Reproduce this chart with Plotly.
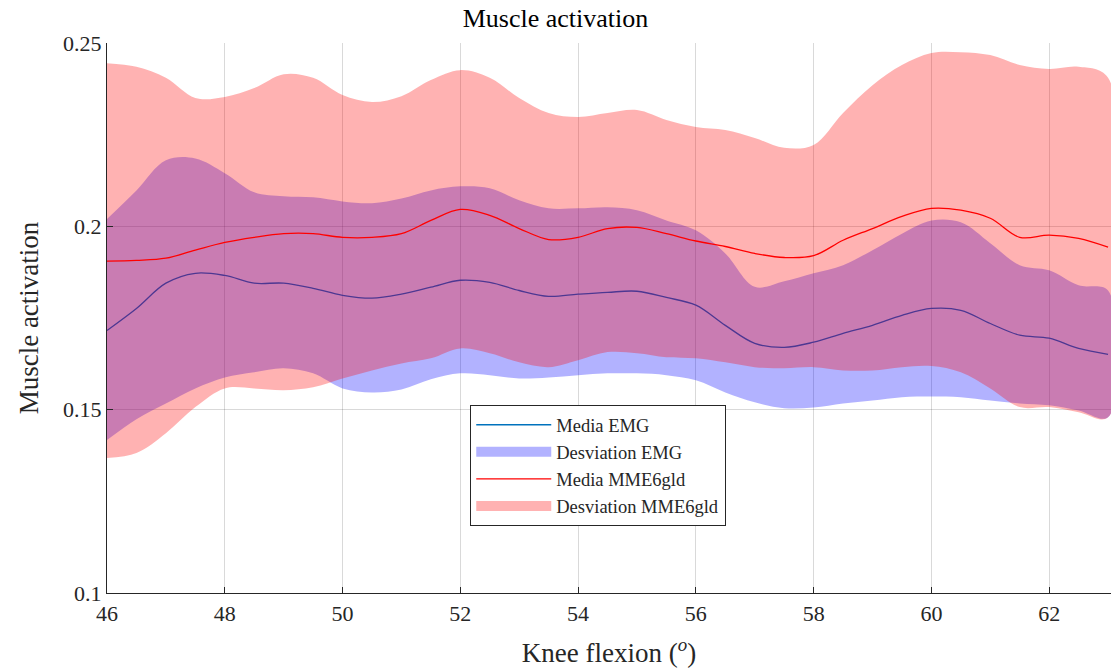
import plotly.graph_objects as go

# Knee flexion angle (degrees)
knee_angle = [46, 46.5, 47, 47.5, 48, 48.5, 49, 49.5, 50, 50.5, 51, 51.5, 52, 52.5,
              53, 53.5, 54, 54.5, 55, 55.5, 56, 56.5, 57, 57.5, 58, 58.5, 59, 59.5,
              60, 60.5, 61, 61.5, 62, 62.5, 63]

# EMG: mean and deviation band
emg_mean = [0.1716, 0.1776, 0.1845, 0.1872, 0.1866, 0.1845, 0.1845, 0.1831, 0.1812, 0.1804,
            0.1815, 0.1834, 0.1853, 0.1847, 0.1825, 0.1809, 0.1815, 0.1820, 0.1823, 0.1806,
            0.1785, 0.1730, 0.1681, 0.1670, 0.1684, 0.1708, 0.1730, 0.1757, 0.1776, 0.1771,
            0.1735, 0.1703, 0.1695, 0.1667, 0.1651]
emg_upper = [0.2020, 0.2098, 0.2180, 0.2185, 0.2145, 0.2093, 0.2082, 0.2079, 0.2068, 0.2063,
             0.2076, 0.2098, 0.2109, 0.2104, 0.2071, 0.2049, 0.2049, 0.2052, 0.2044, 0.2016,
             0.1989, 0.1926, 0.1835, 0.1850, 0.1872, 0.1894, 0.1935, 0.1980, 0.2016, 0.2011,
             0.1954, 0.1894, 0.1880, 0.1839, 0.1825]
emg_lower = [0.1417, 0.1474, 0.1517, 0.1558, 0.1588, 0.1602, 0.1613, 0.1599, 0.1558, 0.1547,
             0.1555, 0.1583, 0.1599, 0.1594, 0.1585, 0.1588, 0.1594, 0.1599, 0.1599, 0.1594,
             0.1580, 0.1547, 0.1520, 0.1504, 0.1506, 0.1517, 0.1525, 0.1534, 0.1536, 0.1534,
             0.1525, 0.1517, 0.1512, 0.1498, 0.1479]

# MME6gld model: mean and deviation band
mme_mean = [0.1905, 0.1907, 0.1913, 0.1935, 0.1956, 0.1970, 0.1980, 0.1980, 0.1970, 0.1970,
            0.1980, 0.2016, 0.2046, 0.2030, 0.1994, 0.1964, 0.1970, 0.1994, 0.1997, 0.1980,
            0.1960, 0.1945, 0.1926, 0.1915, 0.1920, 0.1962, 0.1994, 0.2027, 0.2049, 0.2044,
            0.2022, 0.1970, 0.1976, 0.1967, 0.1943]
mme_upper = [0.2445, 0.2435, 0.2405, 0.2350, 0.2353, 0.2377, 0.2415, 0.2405, 0.2358, 0.2339,
             0.2355, 0.2399, 0.2426, 0.2405, 0.2350, 0.2309, 0.2298, 0.2309, 0.2317, 0.2290,
             0.2271, 0.2263, 0.2241, 0.2214, 0.2222, 0.2309, 0.2385, 0.2440, 0.2473, 0.2475,
             0.2467, 0.2440, 0.2429, 0.2435, 0.2405]
mme_lower = [0.1368, 0.1382, 0.1436, 0.1507, 0.1558, 0.1558, 0.1553, 0.1561, 0.1585, 0.1607,
             0.1626, 0.1640, 0.1667, 0.1654, 0.1629, 0.1616, 0.1635, 0.1657, 0.1654, 0.1643,
             0.1640, 0.1629, 0.1616, 0.1613, 0.1616, 0.1607, 0.1607, 0.1616, 0.1619, 0.1602,
             0.1558, 0.1507, 0.1507, 0.1493, 0.1479]

x_ticks = [46, 48, 50, 52, 54, 56, 58, 60, 62]
y_ticks = [0.1, 0.15, 0.2, 0.25]
y_tick_text = ["0.1", "0.15", "0.2", "0.25"]

SERIF = "Liberation Serif, DejaVu Serif, serif"
INK = "#262626"

EMG_LINE = "#0072BD"
EMG_FILL = "rgba(0,0,255,0.3)"
MME_LINE = "#FF0000"
MME_FILL = "rgba(255,0,0,0.3)"


def band(upper, lower):
    xs = knee_angle + knee_angle[::-1]
    ys = upper + lower[::-1]
    return xs, ys


fig = go.Figure()

fig.add_trace(go.Scatter(
    x=knee_angle, y=emg_mean, mode="lines", name="Media EMG",
    line=dict(color=EMG_LINE, width=1.3, shape="spline"), legendrank=1))

bx, by = band(emg_upper, emg_lower)
fig.add_trace(go.Scatter(
    x=bx, y=by, mode="lines", fill="toself", name="Desviation EMG",
    fillcolor=EMG_FILL, line=dict(width=0, shape="spline"), showlegend=False))

rx, ry = band(mme_upper, mme_lower)
fig.add_trace(go.Scatter(
    x=rx, y=ry, mode="lines", fill="toself", name="Desviation MME6gld",
    fillcolor=MME_FILL, line=dict(width=0, shape="spline"), showlegend=False))

fig.add_trace(go.Scatter(
    x=knee_angle, y=mme_mean, mode="lines", name="Media MME6gld",
    line=dict(color=MME_LINE, width=1.3, shape="spline"), legendrank=3))

# Legend swatches for the two shaded bands (wide rectangles)
fig.add_trace(go.Scatter(
    x=[None], y=[None], mode="lines", name="Desviation EMG",
    line=dict(color=EMG_FILL, width=16), legendrank=2))
fig.add_trace(go.Scatter(
    x=[None], y=[None], mode="lines", name="Desviation MME6gld",
    line=dict(color=MME_FILL, width=16), legendrank=4))

fig.update_layout(
    width=1111, height=670,
    margin=dict(l=107, r=0, t=43, b=77),
    paper_bgcolor="white", plot_bgcolor="white",
    font=dict(family=SERIF, color=INK, size=18),
    title=dict(text="Muscle activation", x=0.5, xanchor="center",
               y=1 - 18 / 670, yanchor="middle",
               font=dict(family=SERIF, size=26, color="black")),
    showlegend=True,
    legend=dict(x=0.3616, y=0.3418, xanchor="left", yanchor="top",
                bgcolor="white", bordercolor=INK, borderwidth=1.2,
                font=dict(family=SERIF, size=18.5, color=INK),
                tracegroupgap=0, itemwidth=75),
)

fig.update_xaxes(
    range=[46, 63.05], tickvals=x_ticks, ticks="inside", ticklen=6,
    tickcolor=INK, showline=True, linecolor=INK, linewidth=1.2,
    showgrid=True, gridcolor="rgba(0,0,0,0.15)", gridwidth=1, zeroline=False,
    title=dict(text="Knee flexion (<sup><i>o</i></sup>)",
               font=dict(family=SERIF, size=27, color=INK), standoff=18),
    tickfont=dict(family=SERIF, size=22, color=INK),
)
fig.update_yaxes(
    range=[0.1, 0.25], tickvals=y_ticks, ticktext=y_tick_text, ticks="inside",
    ticklen=6, tickcolor=INK, showline=True, linecolor=INK,
    linewidth=1.2, showgrid=True, gridcolor="rgba(0,0,0,0.15)", gridwidth=1,
    zeroline=False,
    title=dict(text="Muscle activation",
               font=dict(family=SERIF, size=27, color=INK), standoff=16),
    tickfont=dict(family=SERIF, size=22, color=INK),
)

fig.write_html("out.html")
